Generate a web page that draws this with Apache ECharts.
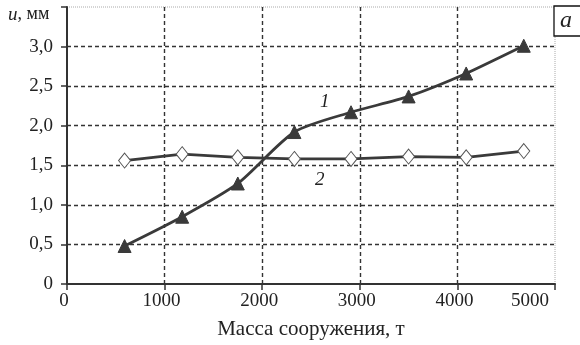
<!DOCTYPE html>
<html><head><meta charset="utf-8">
<script src="https://cdn.jsdelivr.net/npm/echarts@6/dist/echarts.min.js"></script>
<style>html,body{margin:0;padding:0;background:#fff}#c{width:580px;height:345px}</style>
</head><body><div id="c"></div>
<script>
var massX = [590, 1180, 1750, 2330, 2910, 3500, 4090, 4680];
var series1 = [0.48, 0.85, 1.27, 1.92, 2.17, 2.37, 2.66, 3.01];
var series2 = [1.56, 1.64, 1.60, 1.58, 1.58, 1.61, 1.60, 1.68];
var yTickLabels = {0:'0',0.5:'0,5',1:'1,0',1.5:'1,5',2:'2,0',2.5:'2,5',3:'3,0'};
var label1 = [2640, 2.30];
var label2 = [2590, 1.31];

var font = 'Liberation Serif';
var dark = '#3a3a3a';
var chart = echarts.init(document.getElementById('c'), null, {renderer:'canvas'});
function pairs(xs, ys){ return xs.map(function(x,i){return [x, ys[i]];}); }
function mp(coord, txt){
  return {symbol:'circle',symbolSize:2,itemStyle:{color:'rgba(0,0,0,0)'},silent:true,
    data:[{coord:coord,value:txt}],
    label:{show:true,position:'inside',formatter:txt,fontFamily:font,fontStyle:'italic',fontSize:19,color:'#222'}};
}
chart.setOption({
  animation:false,
  backgroundColor:'#fff',
  grid:{left:67,right:25,top:7,bottom:59,show:true,borderColor:'#aaa',borderType:'dotted',borderWidth:1,backgroundColor:'transparent'},
  xAxis:{type:'value',min:0,max:5000,interval:1000,
    name:'Масса сооружения, т',nameLocation:'middle',nameGap:35,
    nameTextStyle:{fontFamily:font,fontSize:21,color:'#222'},
    axisLine:{lineStyle:{color:'#333',width:2}},
    axisTick:{show:true,length:6,lineStyle:{color:'#333',width:1.5}},
    axisLabel:{fontFamily:font,fontSize:19,color:'#222',margin:8,padding:[0,6,0,0],alignMaxLabel:'right',
      formatter:function(v){return String(v);}},
    splitLine:{show:true,showMinLine:false,showMaxLine:false,lineStyle:{color:'#333',type:[4,3],width:1.4}}
  },
  yAxis:{type:'value',min:0,max:3.5,interval:0.5,
    axisLine:{show:true,lineStyle:{color:'#333',width:2}},
    axisTick:{show:true,length:6,lineStyle:{color:'#333',width:1.5}},
    axisLabel:{fontFamily:font,fontSize:19,color:'#222',margin:14,
      formatter:function(v){ return v===3.5 ? '' : (yTickLabels[v]!==undefined?yTickLabels[v]:String(v)); }},
    splitLine:{show:true,showMinLine:false,showMaxLine:false,lineStyle:{color:'#333',type:[4,3],width:1.4}}
  },
  series:[
    {type:'line',data:pairs(massX,series1),smooth:0.25,symbol:'triangle',symbolSize:13,
      lineStyle:{color:dark,width:2.8},itemStyle:{color:dark,borderColor:dark,borderWidth:1},z:3,
      markPoint:mp(label1,'1')},
    {type:'line',data:pairs(massX,series2),smooth:false,symbol:'diamond',symbolSize:[12,15],
      lineStyle:{color:dark,width:2.8},itemStyle:{color:'#fff',borderColor:'#555',borderWidth:1},z:4,
      markPoint:mp(label2,'2')}
  ],
  graphic:[
    {type:'text',left:8,top:5,style:{rich:{i:{fontFamily:font,fontStyle:'italic',fontSize:19,fill:'#222'},n:{fontFamily:font,fontSize:18,fill:'#222'}},text:'{i|u}{n|, мм}'}},
    {type:'rect',shape:{x:554,y:6,width:30,height:30},style:{fill:'#fff',stroke:'#111',lineWidth:1.3}},
    {type:'text',x:560,y:9,style:{text:'a',fontFamily:font,fontStyle:'italic',fontSize:24,fill:'#222'}}
  ]
});
</script></body></html>
